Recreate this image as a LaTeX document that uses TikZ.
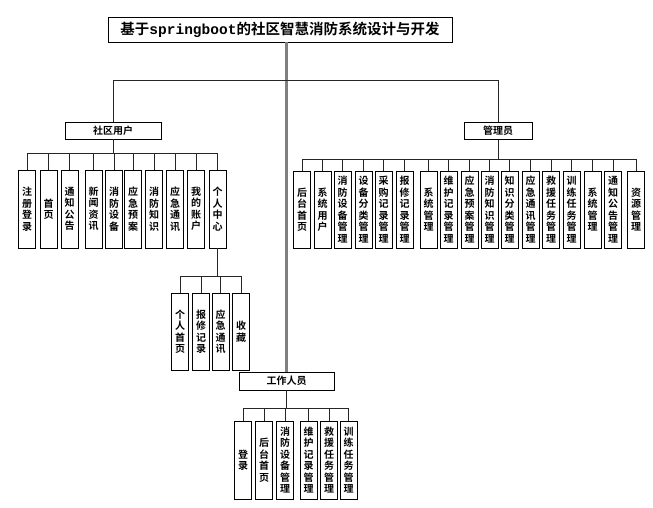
\documentclass[tikz,border=0pt]{standalone}
\usepackage{fontspec}
\newfontfamily\cjk{Noto Sans CJK SC}[BoldFont={Noto Sans CJK SC Bold}]
\newfontfamily\mono{Liberation Mono}
\begin{document}
\begin{tikzpicture}[x=1pt,y=-1pt,
  box/.style={draw=black,line width=0.9pt,inner sep=0pt,fill=white},
  hbox/.style={box,minimum height=17pt,font=\cjk\bfseries\fontsize{10}{11}\selectfont},
  vbox/.style={box,minimum width=17pt,minimum height=78pt,align=center,font=\cjk\bfseries\fontsize{10}{11.5}\selectfont},
  link/.style={draw=black!85,line width=0.8pt},
  trunk/.style={draw=black!50,line width=2.2pt}]
\useasboundingbox (0,0) rectangle (653,507);
% title
\node[box,minimum width=344pt,minimum height=25pt,font=\cjk\bfseries\fontsize{14.5}{16}\selectfont] (title) at (280,29.5) {基于{\mono\bfseries springboot}的社区智慧消防系统设计与开发};
\node[hbox,minimum width=96pt] (su) at (113,130.5) {社区用户};
\node[hbox,minimum width=68pt] (ad) at (498,131) {管理员};
\node[hbox,minimum width=95pt,minimum height=18pt] (wk) at (286.5,381) {工作人员};
% trunk
\draw[trunk] (wk.north |- title.south) -- (wk.north);
\draw[link] (su.north) -- ++(0,-41) -| (ad.north);
% user children
\foreach \n/\x/\t in {u1/27/注\\册\\登\\录, u2/48.5/首\\页, u3/69.5/通\\知\\公\\告, u4/93.5/新\\闻\\资\\讯, u5/114/消\\防\\设\\备, u6/133/应\\急\\预\\案, u7/154/消\\防\\知\\识, u8/175/应\\急\\通\\讯, u9/196/我\\的\\账\\户, u10/217.5/个\\人\\中\\心}{
  \node[vbox] (\n) at (\x,209) {\t};
  \draw[link] (su.south) -- ++(0,14) -| (\n.north);
}
% personal center children
\foreach \n/\x/\t in {p1/180/个\\人\\首\\页, p2/201/报\\修\\记\\录, p3/220.5/应\\急\\通\\讯, p4/241/收\\藏}{
  \node[vbox,minimum height=77pt] (\n) at (\x,331.5) {\t};
  \draw[link] (u10.south) -- ++(0,28) -| (\n.north);
}
% admin children
\foreach \n/\x/\t in {a1/302/后\\台\\首\\页, a2/322.5/系\\统\\用\\户, a3/342.5/消\\防\\设\\备\\管\\理, a4/363.5/设\\备\\分\\类\\管\\理, a5/383.5/采\\购\\记\\录\\管\\理, a6/404.5/报\\修\\记\\录\\管\\理, a7/428.5/系\\统\\管\\理, a8/448.5/维\\护\\记\\录\\管\\理, a9/469.5/应\\急\\预\\案\\管\\理, a10/489.5/消\\防\\知\\识\\管\\理, a11/509.5/知\\识\\分\\类\\管\\理, a12/530.5/应\\急\\通\\讯\\管\\理, a13/551/救\\援\\任\\务\\管\\理, a14/571.5/训\\练\\任\\务\\管\\理, a15/592.5/系\\统\\管\\理, a16/613/通\\知\\公\\告\\管\\理, a17/636/资\\源\\管\\理}{
  \node[vbox,minimum height=77pt] (\n) at (\x,209.5) {\t};
  \draw[link] (ad.south) -- ++(0,19) -| (\n.north);
}
% worker children
\foreach \n/\x/\t in {w1/243/登\\录, w2/264/后\\台\\首\\页, w3/285/消\\防\\设\\备\\管\\理, w4/308.5/维\\护\\记\\录\\管\\理, w5/329/救\\援\\任\\务\\管\\理, w6/348.5/训\\练\\任\\务\\管\\理}{
  \node[vbox] (\n) at (\x,460) {\t};
  \draw[link] (wk.south) -- ++(0,18) -| (\n.north);
}
\end{tikzpicture}
\end{document}
